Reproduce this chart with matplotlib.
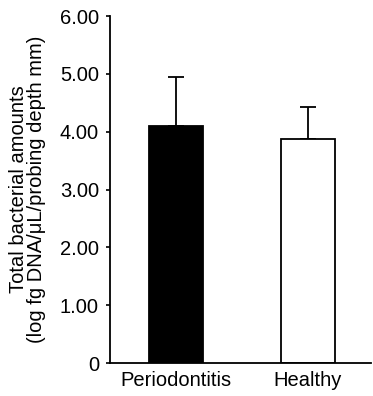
import numpy as np
import matplotlib.pyplot as plt

plt.rcParams['font.family'] = ['Liberation Sans', 'DejaVu Sans']

# data
groups = ['Periodontitis', 'Healthy']
means = [4.10, 3.87]
sd_upper = [0.85, 0.55]
colors = ['black', 'white']
yticks = [0, 1, 2, 3, 4, 5, 6]
ytick_labels = ['0', '1.00', '2.00', '3.00', '4.00', '5.00', '6.00']

fig = plt.figure(figsize=(3.73, 3.96), dpi=100)
ax = fig.add_axes([0.295, 0.0833, 0.70, 0.876])

x = np.arange(len(groups))
ax.bar(x, means, width=0.41, color=colors, edgecolor='black', linewidth=1.3,
       zorder=2)
ax.errorbar(x, means, yerr=[np.zeros(len(means)), sd_upper], fmt='none',
            ecolor='black', elinewidth=1.3, capsize=6, capthick=1.3, zorder=1)

ax.set_xlim(-0.5, 1.48)
ax.set_ylim(0, 6)
ax.set_yticks(yticks)
ax.set_yticklabels(ytick_labels)
ax.set_xticks(x)
ax.set_xticklabels(groups)
ax.tick_params(axis='y', direction='out', length=3, width=1.2, labelsize=14.5, pad=5)
ax.tick_params(axis='x', length=0, labelsize=14.5, pad=6)

for s in ['top', 'right']:
    ax.spines[s].set_visible(False)
for s in ['left', 'bottom']:
    ax.spines[s].set_linewidth(1.3)

ax.set_ylabel('Total bacterial amounts\n(log fg DNA/\u03bcL/probing depth mm)',
              fontsize=14.5, labelpad=10, linespacing=0.95)

fig.savefig('out.png', dpi=100)
